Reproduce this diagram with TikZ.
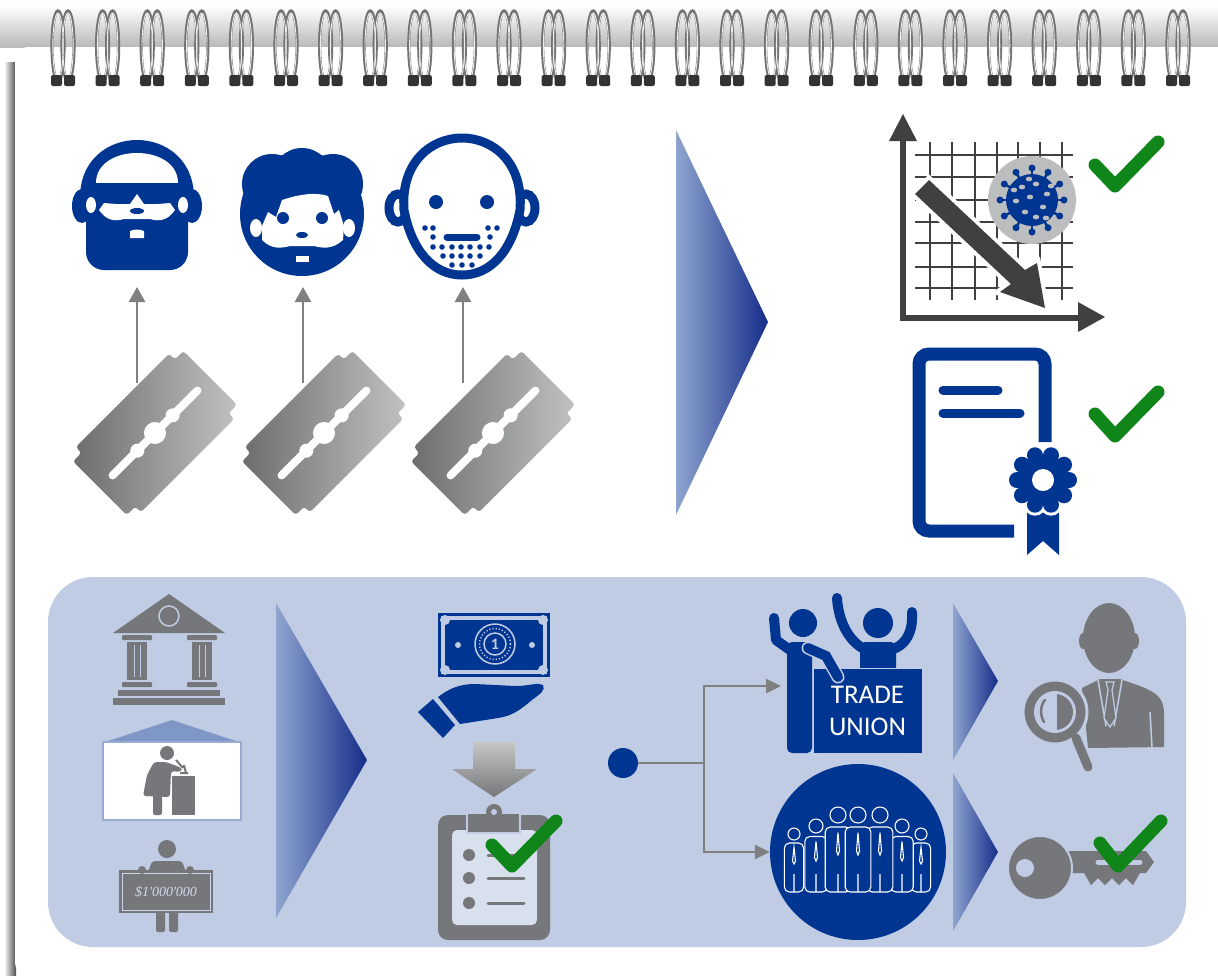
\documentclass[tikz,border=0pt]{standalone}
\usepackage{fontspec}
\setmainfont{Carlito}
\newfontfamily\chequefont{Liberation Serif}
\usetikzlibrary{arrows.meta,calc}
\definecolor{navy}{RGB}{0,53,145}
\definecolor{icongray}{RGB}{118,119,122}
\definecolor{panel}{RGB}{191,204,227}
\definecolor{okgreen}{RGB}{16,134,26}
\definecolor{chartgray}{RGB}{64,64,64}
\definecolor{linkgray}{RGB}{128,128,128}
\definecolor{chevlight}{RGB}{143,165,207}
\definecolor{chevdark}{RGB}{22,45,138}
\definecolor{virusgray}{RGB}{188,189,191}
\definecolor{roofblue}{RGB}{126,151,199}
\definecolor{bladedark}{RGB}{108,109,111}
\definecolor{bladelight}{RGB}{192,193,195}

\begin{document}
\begin{tikzpicture}[x=1pt, y=-1pt,
    tick/.style={okgreen, line width=13, line cap=round, line join=round},
    lift/.style={linkgray, line width=2.5, -{Triangle[length=15pt, width=16pt]}},
    link/.style={linkgray, line width=2.5, -{Triangle[length=15pt, width=14pt]}},
    chevron/.style={left color=chevlight, right color=chevdark},
    ring/.style={black!55, line width=3.2},
    shine/.style={white!85!gray, line width=0.9},
    blade/.style={left color=bladedark, right color=bladelight, rounded corners=3},
    folk/.style={draw=white, fill=navy, line width=1.1}]

    \useasboundingbox (0,0) rectangle (1218,978);
    \fill[white] (0,0) rectangle (1218,978);

    % notebook page and spiral binding
    \shade[top color=white, bottom color=gray!55] (0,6) rectangle (1218,47);
    \shade[left color=white, right color=black!70] (4,62) rectangle (16,975);
    \fill[white, rounded corners=12] (15,47) rectangle (1240,975);
    \foreach \i [evaluate=\i as \rx using 63+44.6*\i] in {0,...,25}{
        \draw[ring] (\rx-5,46) ellipse (6 and 35);
        \draw[ring] (\rx+5,46) ellipse (6 and 35);
        \draw[shine] (\rx-5,46) ellipse (5.2 and 33);
        \draw[shine] (\rx+5,46) ellipse (5.2 and 33);
        \fill[black!80, rounded corners=2] (\rx-12,75) rectangle (\rx-1,86);
        \fill[black!80, rounded corners=2] (\rx+1,75) rectangle (\rx+12,86);
    }

    % faces: sunglasses and beard
    \fill[navy] (80,200) .. controls (78,120) and (196,120) .. (194,200) -- cycle;
    \fill[navy, rounded corners=18] (86,190) rectangle (188,270);
    \fill[navy] (82,206) ellipse (10 and 17);
    \fill[navy] (192,206) ellipse (10 and 17);
    \fill[white] (96,183) .. controls (96,143) and (178,143) .. (178,183) -- cycle;
    \fill[white] (104,203) -- (116,204) -- (130,204) -- (137,194) -- (144,204) -- (158,204) -- (170,203)
        -- (175,210) .. controls (168,220) and (160,222) .. (150,219) -- (124,219)
        .. controls (114,222) and (106,220) .. (99,210) -- cycle;
    \fill[white] (91,205) ellipse (5 and 8);
    \fill[white] (183,205) ellipse (5 and 8);
    \fill[navy] (137,211) ellipse (7 and 3);
    \fill[white] (130,231) .. controls (135,229) and (139,229) .. (144,231) -- (144,238) -- (130,238) -- cycle;

    % faces: curly hair
    \fill[navy] (302,214) circle (62);
    \fill[navy] (272,184) circle (30);
    \fill[navy] (302,178) circle (30);
    \fill[navy] (333,184) circle (30);
    \fill[white] (262,226) -- (268,212) -- (276,217) -- (282,200)
        .. controls (300,194) and (316,192) .. (328,196) -- (334,214) -- (339,210) -- (344,226)
        -- (343,240) .. controls (332,250) and (322,248) .. (314,246) -- (290,246)
        .. controls (282,248) and (272,250) .. (262,240) -- cycle;
    \fill[white] (256,228) ellipse (6 and 9);
    \fill[white] (349,228) ellipse (6 and 9);
    \fill[navy] (283,218) circle (6);
    \fill[navy] (322,218) circle (6);
    \fill[navy] (302,235) ellipse (6 and 3);
    \fill[white] (296,256) rectangle (309,262);

    % faces: bald with stubble
    \draw[navy, line width=9, fill=white] (398,208) ellipse (9 and 14);
    \draw[navy, line width=9, fill=white] (526,208) ellipse (9 and 14);
    \draw[navy, line width=9, fill=white] (404,210) .. controls (397,114) and (527,114) .. (520,210)
        .. controls (512,252) and (490,275) .. (462,275) .. controls (434,275) and (412,252) .. (404,210) -- cycle;
    \fill[navy] (436,202) circle (7);
    \fill[navy] (487,202) circle (7);
    \draw[navy, line width=7, line cap=round] (447,237) -- (477,237);
    \foreach \sx/\sy in {425/228,433/228,488/228,497/228,433/237,490/237,
                          433/247,442/247,452/247,461/247,470/247,480/247,489/247,
                          443/256,452/256,461/256,470/256,480/256,452/265,462/265,472/265}{
        \fill[navy] (\sx,\sy) circle (2.8);
    }

    % blades lift the faces
    \coordinate (b1) at (137,383);
    \coordinate (b2) at (303,383);
    \coordinate (b3) at (463,383);
    \coordinate (f1) at (137,287);
    \coordinate (f2) at (303,287);
    \coordinate (f3) at (463,287);
    \foreach \a/\b in {b1/f1, b2/f2, b3/f3}{
        \draw[lift] (\a) -- (\b);
    }
    \foreach \bx in {155,324,493}{
        \begin{scope}[shift={(\bx,433)}, rotate=45]
            \shade[blade] (-78,-38) -- (-66,-38) -- (-66,-46) -- (66,-46) -- (66,-38) -- (78,-38)
                -- (78,38) -- (66,38) -- (66,46) -- (-66,46) -- (-66,38) -- (-78,38) -- cycle;
            \draw[white, line width=8, line cap=round] (-60,0) -- (60,0);
            \fill[white] (0,0) circle (11) (-25,0) circle (7) (25,0) circle (7);
        \end{scope}
    }

    \shade[chevron] (676,130) -- (768,322) -- (676,515) -- cycle;

    % falling infection chart
    \foreach \gx in {930,952,975,997,1018,1040,1062}{
        \draw[chartgray, line width=1.2] (\gx,142) -- (\gx,300);
    }
    \foreach \gy in {155,177,200,222,243,267,288}{
        \draw[chartgray, line width=1.2] (915,\gy) -- (1073,\gy);
    }
    \fill[virusgray] (1032,200) circle (44);
    \begin{scope}[shift={(1032,200)}]
        \foreach \a in {0,30,...,330}{
            \draw[navy, line width=2.5] (\a:24) -- (\a:32);
            \fill[navy] (\a:32) circle (3.5);
        }
        \fill[navy] (0,0) circle (26);
        \foreach \px/\py in {-10/-13,4/-16,15/-6,-16/1,-2/-3,11/7,-7/12,4/17,19/-14,-18/-10,-3/-21,14/18}{
            \fill[virusgray] (\px,\py) ellipse (3.2 and 2.4);
        }
    \end{scope}
    \draw[chartgray, line width=6] (903,138) -- (903,318) -- (1080,318);
    \fill[chartgray] (889,141) -- (903,114) -- (917,141) -- cycle;
    \fill[chartgray] (1078,302) -- (1105,317) -- (1078,332) -- cycle;
    \fill[chartgray, preaction={draw=white, line width=8, line join=miter}]
        (929,180) -- (1025,270) -- (1037,263) -- (1045,308) -- (1000,292) -- (1011,284) -- (915,194) -- cycle;

    % certificate
    \draw[navy, line width=13, rounded corners=10] (1014,531) -- (919,531) -- (919,354) -- (1045,354) -- (1045,442);
    \draw[navy, line width=9, line cap=round] (943,390) -- (998,390) (943,413) -- (1020,413);
    \fill[navy] (1027,500) -- (1027,555) -- (1043,541) -- (1059,555) -- (1059,500) -- cycle;
    \fill[white] (1043,480) circle (29);
    \foreach \a in {0,36,...,324}{
        \fill[white] (1043,480) ++(\a:26) circle (11);
    }
    \fill[navy] (1043,480) circle (26);
    \foreach \a in {0,36,...,324}{
        \fill[navy] (1043,480) ++(\a:26) circle (8);
    }
    \fill[white] (1043,480) circle (11);

    \draw[tick] (1095,165) -- (1115,186) -- (1158,142);
    \draw[tick] (1095,414) -- (1115,436) -- (1158,392);

    % funding panel
    \fill[panel, rounded corners=45] (48,577) rectangle (1186,947);

    % bank
    \fill[icongray] (113,633) -- (169,594) -- (225,633) -- cycle;
    \draw[panel, line width=1.5] (169,616) circle (10);
    \foreach \cx in {122,187}{
        \fill[icongray, rounded corners=1] (\cx,635) rectangle (\cx+30,640);
        \fill[icongray] (\cx+5,642) rectangle (\cx+25,680);
        \draw[panel, line width=1] (\cx+12,645) -- (\cx+12,677) (\cx+18,645) -- (\cx+18,677);
        \fill[icongray, rounded corners=1] (\cx,682) rectangle (\cx+30,687);
    }
    \fill[icongray] (118,690) rectangle (220,696);
    \fill[icongray] (113,698) rectangle (225,705);

    % lab
    \fill[roofblue] (102,743) -- (172,720) -- (242,743) -- cycle;
    \draw[roofblue!80!white, line width=2, fill=white] (103,742) rectangle (241,820);
    \fill[icongray] (167,753) circle (7);
    \fill[icongray, rounded corners=3] (154,762) -- (166,762) -- (182,768) -- (181,772) -- (171,771)
        -- (170,797) -- (143,796) -- (147,775) -- cycle;
    \fill[icongray, rounded corners=2] (153,795) rectangle (162,815);
    \fill[icongray] (172,776) rectangle (195,815);
    \draw[icongray, line width=2] (176,760) -- (183,768) (180,773) -- (188,773) (184,765) -- (186,773);

    % donor with cheque
    \fill[icongray] (167,849) circle (9);
    \fill[icongray, rounded corners=3] (147,875) -- (152,861) -- (182,861) -- (187,875) -- cycle;
    \fill[icongray, rounded corners=2] (156,905) rectangle (165,932);
    \fill[icongray, rounded corners=2] (169,905) rectangle (178,932);
    \fill[icongray] (119,870) rectangle (213,913);
    \draw[panel!80!white, line width=1] (122,873) rectangle (210,910);
    \fill[icongray] (142,870) circle (4) (190,870) circle (4);
    \node[text=panel!70!white, font=\chequefont\itshape\fontsize{14}{16}\selectfont] (cheque) at (166,892) {\$1'000'000};

    \shade[chevron] (276,603) -- (367,760) -- (276,918) -- cycle;

    % grant in hand
    \draw[navy, line width=3] (439.5,614.5) rectangle (548.5,675.5);
    \fill[navy] (445,620) rectangle (543,670);
    \foreach \cx/\cy in {445/620,543/620,445/670,543/670}{
        \fill[panel] (\cx,\cy) circle (5);
    }
    \fill[panel] (458,645) circle (3) (532,645) circle (3);
    \draw[panel, line width=1.5] (495,644) circle (20);
    \draw[panel, line width=1.5, dash pattern=on 1.2pt off 2pt] (495,644) circle (15.5);
    \node[circle, draw=panel, line width=1.5, fill=navy, text=panel, inner sep=0, minimum size=22,
          font=\bfseries\fontsize{16}{16}\selectfont] (coin) at (495,644) {1};
    \fill[navy] (418,712) -- (433,699) -- (455,725) -- (443,738) -- cycle;
    \fill[navy] (438,697) .. controls (450,688) and (460,684) .. (475,684) -- (515,686)
        .. controls (530,686) and (538,682) .. (543,685) .. controls (546,690) and (540,694) .. (532,700)
        .. controls (520,710) and (512,716) .. (498,718) -- (460,724) -- cycle;

    \shade[top color=gray!45, bottom color=icongray] (473,742) -- (515,742) -- (515,769) -- (537,769)
        -- (494,797) -- (452,769) -- (473,769) -- cycle;

    % approved clipboard
    \fill[icongray, rounded corners=10] (438,815) rectangle (550,940);
    \fill[panel!60!white, rounded corners=5] (452,830) rectangle (537,925);
    \draw[panel, line width=2, fill=icongray] (467,813) rectangle (520,833);
    \fill[icongray] (494,812) circle (8);
    \fill[panel] (494,812) circle (3);
    \foreach \ly in {855,878,903}{
        \fill[icongray] (469,\ly) circle (6);
        \draw[icongray, line width=3, line cap=round] (488,\ly) -- (524,\ly);
    }
    \draw[tick] (492,845) -- (512,866) -- (556,821);

    % union or staff
    \node[circle, fill=navy, inner sep=0, minimum size=30] (src) at (623,763) {};
    \coordinate (split) at (704,763);
    \coordinate (tuin) at (781,686);
    \node[circle, fill=navy, inner sep=0, minimum size=176] (crowd) at (858,852) {};
    \draw[linkgray, line width=2.5] (src) -- (split);
    \draw[link] (split) |- (tuin);
    \draw[link] (split) |- (crowd);

    \fill[navy] (803,623) circle (14);
    \fill[navy, rounded corners=5] (787,642) rectangle (812,753);
    \draw[navy, line width=10, line cap=round, line join=round] (774,618) -- (776,640) -- (790,650);
    \fill[navy] (878,623) circle (15);
    \fill[navy, rounded corners=5] (860,642) rectangle (896,672);
    \draw[navy, line width=10, line cap=round] (866,650) .. controls (845,640) and (838,615) .. (837,598);
    \draw[navy, line width=10, line cap=round] (890,650) .. controls (910,645) and (913,625) .. (912,612);
    \node[fill=navy, draw=panel, line width=1, text=white, align=center, inner sep=0,
          minimum width=109, minimum height=85, font=\fontsize{27}{32}\selectfont] (union) at (867.5,710.5) {TRADE\\UNION};
    \draw[panel, line width=13, line cap=round] (808,648) -- (826,656) -- (838,677);
    \draw[navy, line width=10, line cap=round] (808,648) -- (826,656) -- (838,677);

    \foreach \hx/\hy/\hr in {794/834/6, 921/834/6, 816/826/7, 902/826/7, 838/815/8, 880/815/8, 858/815/8}{
        \draw[folk, rounded corners=5] (\hx-1.6*\hr,892) -- (\hx-1.6*\hr,\hy+1.5*\hr)
            -- (\hx+1.6*\hr,\hy+1.5*\hr) -- (\hx+1.6*\hr,892) -- cycle;
        \draw[white, line width=1.1] (\hx,\hy+2.2*\hr) -- (\hx-1.5,\hy+4.5*\hr) -- (\hx,\hy+5*\hr)
            -- (\hx+1.5,\hy+4.5*\hr) -- cycle (\hx,874) -- (\hx,892);
        \draw[folk] (\hx,\hy) circle (\hr);
    }

    \shade[chevron] (953,603) -- (998,681) -- (953,760) -- cycle;
    \shade[chevron] (953,773) -- (998,852) -- (953,931) -- cycle;

    % auditor
    \fill[icongray] (1109,638) ellipse (26 and 35);
    \fill[icongray] (1083,641) ellipse (4 and 8) (1135,641) ellipse (4 and 8);
    \fill[icongray] (1082,688) -- (1100,679) -- (1120,679) -- (1140,686)
        .. controls (1160,694) and (1164,700) .. (1164,715) -- (1164,747) -- (1088,748) -- cycle;
    \draw[panel, line width=1.5] (1098,680) -- (1106,726) (1122,680) -- (1114,726) (1150,712) -- (1152,747);
    \draw[panel, line width=1.2, fill=icongray] (1106,682) -- (1114,682) -- (1112,690) -- (1116,718)
        -- (1110,727) -- (1104,718) -- (1108,690) -- cycle;
    \draw[panel, line width=3, fill=icongray] (1055,712) circle (32);
    \draw[icongray, line width=9, line cap=round] (1076,738) -- (1088,767);
    \fill[panel] (1055,712) circle (21);
    \begin{scope}
        \clip (1057,685) rectangle (1085,740);
        \fill[icongray] (1055,712) circle (18);
    \end{scope}
    \draw[icongray, line width=2.5, line cap=round] (1045,700) .. controls (1040,705) and (1040,716) .. (1044,722);

    % key
    \fill[icongray] (1068,851) -- (1146,851) -- (1154,862) -- (1146,873) -- (1140,873) -- (1133,885)
        -- (1126,878) -- (1119,885) -- (1112,878) -- (1105,885) -- (1098,878) -- (1091,885) -- (1084,873)
        -- (1068,873) -- cycle;
    \draw[panel, line width=5, line cap=round] (1098,862) -- (1140,862);
    \draw[panel, line width=2, fill=icongray] (1040,868) circle (32);
    \fill[panel] (1025,868) circle (9);
    \draw[tick] (1100,843) -- (1118,866) -- (1161,821);

\end{tikzpicture}
\end{document}
